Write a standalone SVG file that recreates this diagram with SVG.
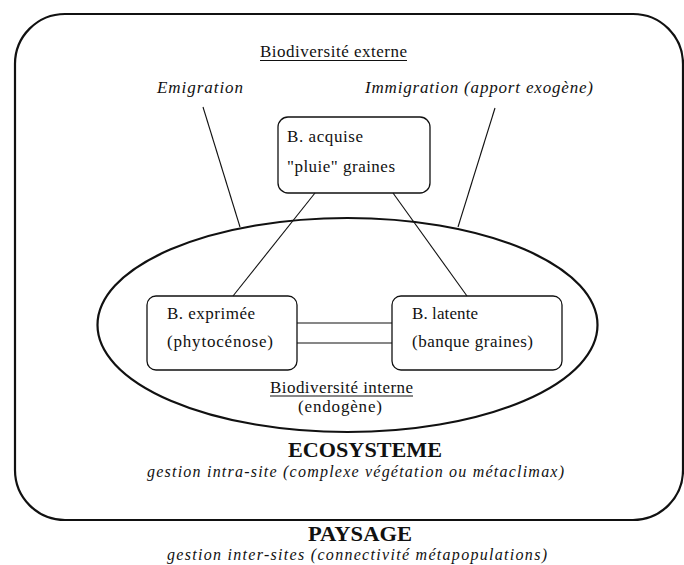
<svg xmlns="http://www.w3.org/2000/svg" width="684" height="565" viewBox="0 0 684 565">
<style>
text{font-family:"Liberation Serif","Times New Roman",serif;fill:#111}
.n{font-size:17px}
.i{font-size:17px;font-style:italic}
.s{font-size:16px;font-style:italic}
.b{font-size:21px;font-weight:bold}
.box{fill:none;stroke:#111;stroke-width:1.3}
.thick{fill:none;stroke:#111;stroke-width:2.2}
.ln{stroke:#111;stroke-width:1.1;fill:none}
</style>
<rect width="684" height="565" fill="#fff"/>
<g id="paysage">
<rect class="thick" x="15" y="14" width="668" height="506" rx="50" ry="50"/>
<text class="b" x="308" y="541" textLength="104" lengthAdjust="spacingAndGlyphs">PAYSAGE</text>
<text class="s" x="167" y="560" textLength="380" lengthAdjust="spacing">gestion inter-sites (connectivité métapopulations)</text>
</g>
<g id="externe">
<text class="n" x="260" y="57" textLength="147" lengthAdjust="spacing">Biodiversité externe</text>
<line class="ln" x1="260" y1="60.5" x2="407" y2="60.5"/>
<text class="i" x="157" y="93" textLength="86" lengthAdjust="spacing">Emigration</text>
<text class="i" x="365" y="93" textLength="228" lengthAdjust="spacing">Immigration (apport exogène)</text>
</g>
<g id="ecosysteme">
<ellipse class="thick" cx="347.5" cy="325" rx="250" ry="107"/>
<text class="n" x="270" y="393" textLength="143" lengthAdjust="spacing">Biodiversité interne</text>
<line class="ln" x1="270" y1="396" x2="413" y2="396"/>
<text class="n" x="298" y="412" textLength="84" lengthAdjust="spacing">(endogène)</text>
<text class="b" x="288" y="457" textLength="154" lengthAdjust="spacingAndGlyphs">ECOSYSTEME</text>
<text class="s" x="147" y="477" textLength="417" lengthAdjust="spacing">gestion intra-site (complexe végétation ou métaclimax)</text>
</g>
<g id="acquise">
<rect class="box" x="278" y="117" width="152" height="76" rx="10" ry="10"/>
<text class="n" x="287" y="142" textLength="76" lengthAdjust="spacing">B. acquise</text>
<text class="n" x="287" y="172" textLength="108" lengthAdjust="spacing">"pluie" graines</text>
</g>
<g id="exprimee">
<rect class="box" x="147" y="296" width="150" height="74" rx="9" ry="9"/>
<text class="n" x="167" y="319" textLength="88" lengthAdjust="spacing">B. exprimée</text>
<text class="n" x="167" y="347" textLength="106" lengthAdjust="spacing">(phytocénose)</text>
</g>
<g id="latente">
<rect class="box" x="392" y="296" width="170" height="74" rx="9" ry="9"/>
<text class="n" x="412" y="319" textLength="66" lengthAdjust="spacing">B. latente</text>
<text class="n" x="412" y="347" textLength="121" lengthAdjust="spacing">(banque graines)</text>
</g>
<g id="connectors">
<line class="ln" x1="203" y1="107" x2="240" y2="227"/>
<line class="ln" x1="495" y1="108" x2="458" y2="227"/>
<line class="ln" x1="315" y1="193" x2="233" y2="296"/>
<line class="ln" x1="393" y1="193" x2="467" y2="296"/>
<line class="ln" x1="297" y1="323" x2="392" y2="323"/>
<line class="ln" x1="297" y1="343" x2="392" y2="343"/>
</g>
</svg>
